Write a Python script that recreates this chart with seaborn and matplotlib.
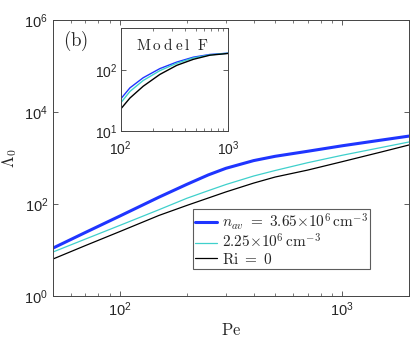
import numpy as np
import matplotlib
matplotlib.use("Agg")
import matplotlib.pyplot as plt
import matplotlib.ticker as mticker
import seaborn as sns

# main panel: Lambda_0 vs Pe
pe = [50, 70, 100, 150, 200, 250, 300, 400, 500, 700, 1000, 1500, 2000]
lam_nav365 = [11.0, 24.1, 54.8, 141, 267, 429, 597, 878, 1089, 1400, 1842, 2450, 2993]
lam_nav225 = [9.05, 17.3, 34.3, 75.2, 133, 195, 265, 406, 535, 790, 1145, 1690, 2228]
lam_ri0 = [6.37, 12.5, 25.2, 56.5, 93, 135, 183, 285, 386, 546, 831, 1350, 1918]

# inset: Model F
pe_f = [100, 122, 162, 232, 333, 475, 679, 1000]
f_nav365 = [33.7, 51.5, 75.5, 107, 137, 165, 183, 192]
f_nav225 = [29, 45, 68, 99, 131, 160, 180, 192]
f_ri0 = [23, 35, 54.7, 85.8, 121, 152, 178, 190]

labels = [r"$n_{av}\ =\ 3.65{\times}10^6\,\mathrm{cm}^{-3}$",
          r"$2.25{\times}10^6\,\mathrm{cm}^{-3}$",
          r"$\mathrm{Ri}\ =\ 0$"]
colors = ["#1f35ff", "#3fd0cc", "black"]
widths = [2.2, 0.9, 0.9]

sns.set_style("ticks")
plt.rcParams["font.family"] = ["Liberation Sans", "DejaVu Sans"]
plt.rcParams["mathtext.fontset"] = "cm"
plt.rcParams["xtick.direction"] = "in"
plt.rcParams["ytick.direction"] = "in"
plt.rcParams["xtick.top"] = True
plt.rcParams["ytick.right"] = True
plt.rcParams["axes.edgecolor"] = "#444444"
plt.rcParams["axes.linewidth"] = 0.7


def style_log_axes(ax, fs):
    ax.set_xscale("log")
    ax.set_yscale("log")
    ax.xaxis.set_major_locator(mticker.LogLocator(base=10, numticks=10))
    ax.xaxis.set_minor_locator(mticker.LogLocator(base=10, subs=np.arange(2, 10), numticks=10))
    ax.xaxis.set_minor_formatter(mticker.NullFormatter())
    ax.tick_params(which="major", length=3.5, width=0.6, labelsize=fs, color="#444444")
    ax.tick_params(which="minor", length=2, width=0.5, color="#444444")


fig = plt.figure(figsize=(4.15, 3.4), dpi=100)
ax = fig.add_axes([0.1277, 0.1294, 0.8578, 0.8118])

for y, c, w, lab in zip([lam_nav365, lam_nav225, lam_ri0], colors, widths, labels):
    sns.lineplot(x=pe, y=y, ax=ax, color=c, linewidth=w, label=lab)

style_log_axes(ax, 10.5)
ax.set_xlim(50, 2000)
ax.set_ylim(1, 1e6)
ax.yaxis.set_major_locator(mticker.FixedLocator([1, 1e2, 1e4, 1e6]))
ax.yaxis.set_minor_locator(mticker.NullLocator())
ax.set_xlabel(r"$\mathrm{Pe}$", fontsize=12, labelpad=2)
ax.set_ylabel(r"$\Lambda_0$", fontsize=12, labelpad=4)
ax.text(0.027, 0.905, r"$\mathrm{(b)}$", transform=ax.transAxes, fontsize=13.5)

leg = ax.legend(loc="lower left", bbox_to_anchor=(0.393, 0.098), borderaxespad=0,
                fontsize=11, frameon=True, fancybox=False, edgecolor="#333333",
                handlelength=1.4, handletextpad=0.35, labelspacing=0.05,
                borderpad=0.15)
leg.get_frame().set_linewidth(0.8)

ins = fig.add_axes([0.2908, 0.6147, 0.2586, 0.303])
for y, c in zip([f_nav365, f_nav225, f_ri0], colors):
    sns.lineplot(x=pe_f, y=y, ax=ins, color=c, linewidth=1.0)
style_log_axes(ins, 10)
ins.set_xlim(100, 1000)
ins.set_ylim(10, 500)
ins.yaxis.set_minor_locator(mticker.NullLocator())
ins.set_xlabel("")
ins.set_ylabel("")
ins.tick_params(axis="x", pad=6)
ins.tick_params(axis="y", pad=2)
ins.text(0.48, 0.835, r"$\mathrm{M\:o\:d\:e\:l\ \ F}$", transform=ins.transAxes,
         fontsize=11, ha="center", va="center")

fig.savefig("out.png", dpi=100)
